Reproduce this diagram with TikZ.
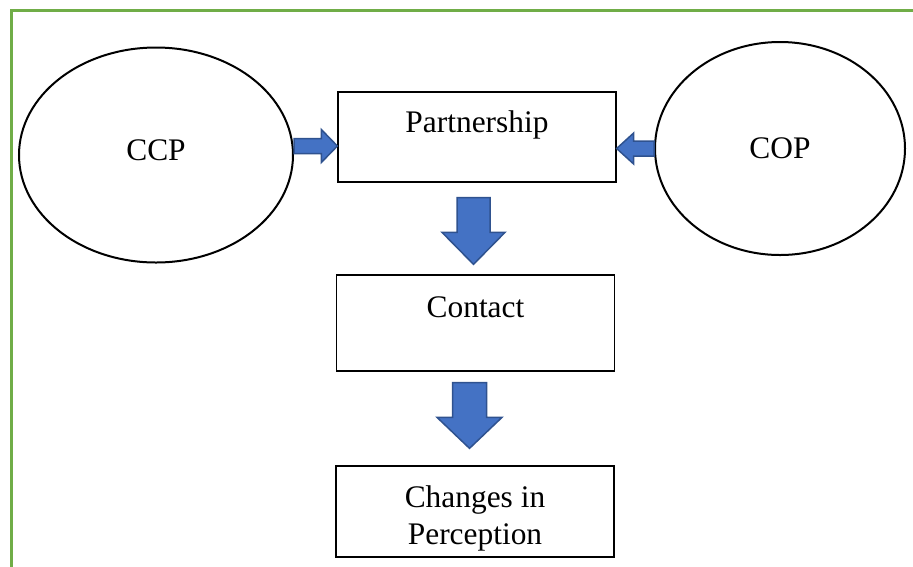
\documentclass[tikz,border=0pt]{standalone}
\usepackage{fontspec}
\setmainfont{Liberation Serif}
\usepackage{tikz}
\usetikzlibrary{shapes.geometric,calc}
\definecolor{frame}{HTML}{70AD47}
\definecolor{arrowblue}{HTML}{4472C4}
\definecolor{arrowedge}{HTML}{2F528F}
\tikzset{
  oval/.style={draw,ellipse,line width=2pt,inner sep=0pt},
  box/.style={draw,rectangle,line width=1.3pt,inner sep=0pt,minimum width=278pt},
  fatarrow/.style={fill=arrowblue,draw=arrowedge,line width=1.5pt,line join=miter}
}
% #1 start, #2 tip, #3 half shaft, #4 half head, #5 head length
\newcommand{\fatarrow}[5]{%
  \coordinate (fa-h) at ($(#2)!#5!(#1)$);
  \filldraw[fatarrow] ($(#1)!#3!90:(#2)$) -- ($(fa-h)!#3!-90:(#1)$) -- ($(fa-h)!#4!-90:(#1)$)
    -- (#2) -- ($(fa-h)!#4!90:(#1)$) -- ($(fa-h)!#3!90:(#1)$) -- ($(#1)!#3!-90:(#2)$) -- cycle;
}
\begin{document}
\begin{tikzpicture}[x=1pt,y=-1pt,font=\fontsize{31.4}{37}\selectfont]
  \useasboundingbox (0,0) rectangle (913,566);
  \draw[frame,line width=3pt] (11,567) -- (11,10) -- (914,10);

  \node[oval,minimum width=274pt,minimum height=215pt,text depth=10pt] (ccp) at (156,155) {CCP};
  \node[oval,minimum width=250pt,minimum height=213pt] (cop) at (780,148.5) {COP};
  \node[box,minimum height=90pt,text height=40pt,text depth=50pt] (part) at (477,137) {Partnership};
  \node[box,minimum height=96pt,text height=42pt,text depth=54pt] (contact) at (475.5,323) {Contact};
  \node[box,minimum height=91pt,align=center,text height=78pt,text depth=13pt] (change) at (475,511.5) {Changes in\\Perception};

  \coordinate (a1s) at ([yshift=9pt]ccp.east);
  \coordinate (a1e) at (part.west |- a1s);
  \coordinate (a2s) at (cop.west);
  \coordinate (a2e) at (part.east |- a2s);
  \coordinate (a3s) at ([shift={(-3.5pt,-15pt)}]part.south);
  \coordinate (a3e) at ($(a3s |- contact.north)+(0,-10)$);
  \coordinate (a4s) at ([shift={(-6pt,-11pt)}]contact.south);
  \coordinate (a4e) at ($(a4s |- change.north)+(0,-17)$);
  \fatarrow{a1s}{a1e}{7.5pt}{16.5pt}{16pt}
  \fatarrow{a2s}{a2e}{7.5pt}{15.5pt}{17pt}
  \fatarrow{a3s}{a3e}{16.5pt}{31.5pt}{32pt}
  \fatarrow{a4s}{a4e}{17pt}{32.5pt}{31pt}
\end{tikzpicture}
\end{document}
